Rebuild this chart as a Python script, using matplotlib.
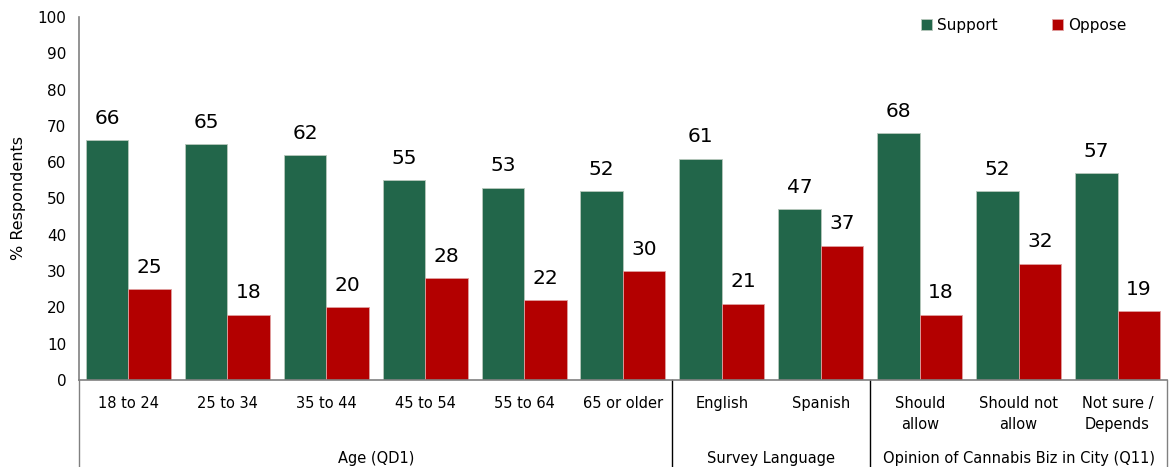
import matplotlib
matplotlib.use("Agg")
import matplotlib.pyplot as plt
import matplotlib.transforms as mtransforms
import numpy as np

plt.rcParams['font.family'] = ['DejaVu Sans']

categories = ["18 to 24", "25 to 34", "35 to 44", "45 to 54", "55 to 64", "65 or older",
              "English", "Spanish",
              "Should\nallow", "Should not\nallow", "Not sure /\nDepends"]
support = [66, 65, 62, 55, 53, 52, 61, 47, 68, 52, 57]
oppose = [25, 18, 20, 28, 22, 30, 21, 37, 18, 32, 19]
groups = ["Age (QD1)", "Survey Language", "Opinion of Cannabis Biz in City (Q11)"]
group_sizes = [6, 2, 3]
yticks = list(range(0, 101, 10))

green = "#22664A"
red = "#B30000"
axis_gray = "#808080"

fig = plt.figure(figsize=(11.70, 4.67), dpi=100)
ax = fig.add_axes([0.0675, 0.1863, 0.9299, 0.7773])

x = np.arange(len(categories))
w = 0.43
b1 = ax.bar(x - w / 2, support, width=w, color=green, edgecolor="#b8c8bc", linewidth=0.6,
            label="Support")
b2 = ax.bar(x + w / 2, oppose, width=w, color=red, edgecolor="#e0a0a0", linewidth=0.6,
            label="Oppose")

for bars, vals in ((b1, support), (b2, oppose)):
    for rect, v in zip(bars, vals):
        ax.text(rect.get_x() + rect.get_width() / 2, v + 3.4, f"{v}",
                ha="center", va="bottom", fontsize=14.5, color="black")

ax.set_xlim(-0.5, len(categories) - 0.5)
ax.set_ylim(0, 100)
ax.set_yticks(yticks)
ax.tick_params(axis="y", length=0, labelsize=11, pad=9)
ax.set_xticks([])
ax.set_ylabel("% Respondents", fontsize=11.5, labelpad=8)

for s in ("top", "right"):
    ax.spines[s].set_visible(False)
for s in ("left", "bottom"):
    ax.spines[s].set_color(axis_gray)
    ax.spines[s].set_linewidth(1.2)

trans = mtransforms.blended_transform_factory(ax.transData, ax.transAxes)

# category labels under the axis
for xi, lab in zip(x, categories):
    ax.text(xi, -0.045, lab, transform=trans, ha="center", va="top",
            fontsize=10.5, linespacing=1.5)

# group separators and group labels
edges = np.concatenate([[0], np.cumsum(group_sizes)]) - 0.5
for e in edges:
    inner = 0 < e < len(categories) - 1
    ax.plot([e, e], [0, -0.35], transform=trans, color="black" if inner else axis_gray,
            linewidth=1.0, clip_on=False)
for i, g in enumerate(groups):
    mid = (edges[i] + edges[i + 1]) / 2
    ax.text(mid, -0.195, g, transform=trans, ha="center", va="top", fontsize=10.5)

ax.legend(loc="upper right", bbox_to_anchor=(0.975, 1.035), ncol=2, frameon=False,
          fontsize=11, handlelength=0.7, handleheight=0.7, handletextpad=0.3,
          columnspacing=3.6)

fig.savefig("out.png", dpi=100)
